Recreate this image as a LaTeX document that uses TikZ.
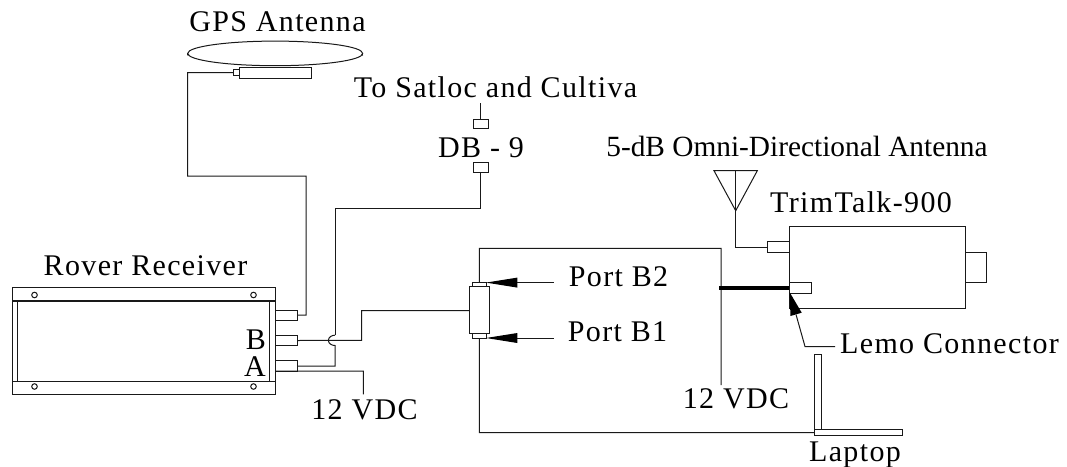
\documentclass[tikz,border=0pt]{standalone}
\usepackage{fontspec}
\setmainfont[LetterSpace=4.5]{Liberation Serif}
\newfontfamily\omnifont{Liberation Serif}
\newcommand{\pxbox}[5]{%
  \pgfmathsetmacro{\bxw}{(#4-#2)*0.75}%
  \pgfmathsetmacro{\bxh}{(#5-#3)*0.75}%
  \node[boxst,minimum width=\bxw pt,minimum height=\bxh pt] (#1) at ({(#2+#4)/2},{(#3+#5)/2}) {};}
\tikzset{
  x=0.75pt,y=-0.75pt,
  boxst/.style={draw=black!90,line width=0.75pt,inner sep=0pt,outer sep=0pt,fill=white,rectangle},
  wire/.style={draw=black!90,line width=0.75pt,line join=miter},
  thick wire/.style={draw=black,line width=2.4pt},
  hole/.style={circle,draw=black!90,line width=0.75pt,inner sep=0pt,minimum size=4.2pt,fill=white},
  lbl/.style={anchor=base,inner sep=0pt,outer sep=0pt,font=\fontsize{22.5}{26}\selectfont,text=black},
  pointer/.style={fill=black,draw=none},
}
\begin{document}
\begin{tikzpicture}
\useasboundingbox (0,0) rectangle (1067,467);
% GPS antenna
\draw[wire,fill=white] (187.7,55.5) arc[start angle=180,end angle=360,x radius=87.5,y radius=10.6] ;
\draw[wire,fill=white] (187.7,53.4) arc[start angle=180,end angle=360,x radius=87.5,y radius=12.3] -- (362.7,53.4) arc[start angle=0,end angle=180,x radius=87.5,y radius=12.3] -- cycle;
\draw[wire] (187.7,53.4) -- (187.7,55.5) (362.7,53.4) -- (362.7,55.5);
\pxbox{gpsbox}{239.4}{67.7}{311.3}{78.3}
\pxbox{gpsstub}{233.3}{70}{239.4}{75.5}
% Receiver
\pxbox{rover}{12.7}{287.3}{275.4}{394}
\draw[wire] (12.7,300) -- (275.4,300) (12.7,301) -- (275.4,301);
\draw[wire] (12.7,381.3) -- (275.4,381.3);
\draw[wire] (17.7,300) -- (17.7,381.3) (269.3,300) -- (269.3,381.3);
\foreach \n/\x/\y in {h1/34.5/295,h2/253.5/295,h3/34.5/386.5,h4/253.5/386.5}
  \node[hole] (\n) at (\x,\y) {};
\pxbox{pgps}{275.4}{310}{297.5}{320}
\pxbox{pb}{275.4}{335.3}{297.5}{345.7}
\pxbox{pa}{275.4}{360.7}{297.5}{371}
% DB-9
\pxbox{dbtop}{473.3}{119.3}{488.3}{128.7}
\pxbox{dbbot}{473.3}{162.7}{488.3}{172.3}
% Splitter connector
\pxbox{spl}{469.3}{286.7}{489.3}{333.7}
\pxbox{spltop}{472.7}{282.3}{486}{286.7}
\pxbox{splbot}{472.7}{333.7}{486}{338.3}
% TrimTalk
\pxbox{trim}{789.3}{226.7}{965}{308}
\pxbox{trimant}{767.3}{241.7}{789.3}{252.3}
\pxbox{trimr}{965}{252}{986.7}{282.7}
\pxbox{lemo}{789.3}{282.7}{811.3}{293}
% Laptop
\pxbox{lapv}{814.3}{354.3}{821.7}{429.3}
\pxbox{laph}{814.3}{429.3}{902.3}{435.7}
% free ends
\coordinate (g1) at (306,176);
\coordinate (g2) at (187.7,72.7);
\coordinate (satup) at (480.8,103);
\coordinate (d1) at (480.8,208.5);
\coordinate (d2) at (335,335.2);
\coordinate (d3) at (335,345.5);
\coordinate (b1) at (361.7,310.5);
\coordinate (v1) at (363.3,394.3);
\coordinate (j1) at (479.3,248.3);
\coordinate (j2) at (721,385);
\coordinate (j3) at (479.3,432.7);
\coordinate (tp) at (735.7,210.7);
\coordinate (tl) at (714,170.7);
\coordinate (tr) at (757.3,170.7);
\coordinate (tt) at (735.7,170.7);
\coordinate (thick1) at (719.3,288);
% wires
\draw[wire] (pgps.east) -- (306,315) |- (g1) -| (g2) -- (gpsstub.west);
\draw[wire] (satup) -- (dbtop.north);
\draw[wire] (dbbot.south) -- (d1) -| (d2);
\draw[wire] (d2) to[out=180,in=90] (328.4,340.4) to[out=270,in=180] (d3) -- (335,366) -- (297.5,366);
\draw[wire] (pb.east) -- (361.7,340.4) -- (b1) -- (spl.west |- b1);
\draw[wire] (pa.south east) -- (275.4,371) -| (v1);
\draw[wire] (spltop.north) -- (j1) -| (j2);
\draw[wire] (splbot.south) -- (j3) -- (laph.west |- j3);
\draw[wire] (tl) -- (tr) -- (tp) -- cycle;
\draw[wire] (tt) -- (tp) |- (trimant.west);
\draw[thick wire] (thick1) -- (trim.west |- thick1);
% pointers
\foreach \nm/\yy in {pb2/282.6,pb1/338}{
  \coordinate (\nm) at (554,\yy);
  \fill[pointer] (486,\yy) -- (517.3,\yy-5) -- (517.3,\yy+5) -- cycle;
  \draw[wire] (517.3,\yy) -- (\nm);
}
\fill[pointer] (789.5,292) -- (801.7,312.7) -- (790.5,316) -- cycle;
\coordinate (lm) at (835,346.5);
\draw[wire] (796,314.5) -- (805,346.5) -- (lm);
% labels
\node[lbl] (tgps) at (277.5,31.7) {GPS Antenna};
\node[lbl] (tsat) at (495.5,97.3) {To Satloc and Cultiva};
\node[lbl] (tdb) at (481,157.3) {DB - 9};
\node[lbl,font=\fontsize{22}{26}\selectfont] (tomni) at (797,156.5) {\omnifont 5-dB Omni-Directional Antenna};
\node[lbl] (ttrim) at (861,212.3) {TrimTalk-900};
\node[lbl] (trov) at (145.5,275) {Rover Receiver};
\node[lbl] (tb2) at (618.5,286.7) {Port B2};
\node[lbl] (tb1) at (617.5,341.7) {Port B1};
\node[lbl] (tb) at (256,349) {B};
\node[lbl] (ta) at (255,376.7) {A};
\node[lbl] (tv1) at (364.5,419.3) {12 VDC};
\node[lbl] (tv2) at (736,408) {12 VDC};
\node[lbl] (tlemo) at (949.5,353) {Lemo Connector};
\node[lbl] (tlap) at (855,461.5) {Laptop};
\end{tikzpicture}
\end{document}
